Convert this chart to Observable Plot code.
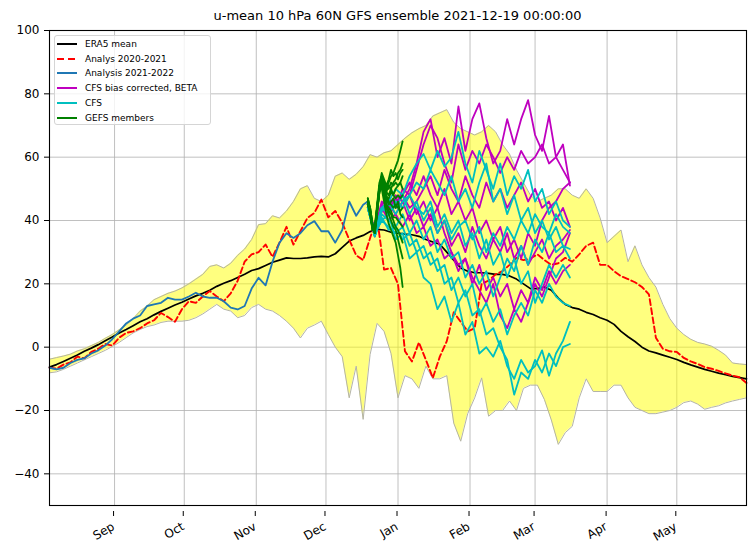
<!DOCTYPE html>
<html><head><meta charset="utf-8">
<script src="https://cdn.jsdelivr.net/npm/d3@7"></script>
<script src="https://cdn.jsdelivr.net/npm/@observablehq/plot@0.6"></script>
<style>
body{margin:0;background:#fff;font-family:"DejaVu Sans",sans-serif;}
#wrap{position:relative;width:756px;height:551px;}
#chart{position:absolute;left:0;top:0;}
#title{position:absolute;left:49px;width:697px;top:8px;text-align:center;font-size:13px;line-height:16px;color:#000;}
#legend{position:absolute;left:54px;top:35px;width:157px;height:90px;border:1px solid #d5d5d5;border-radius:3px;background:rgba(255,255,255,0.8);font-size:9px;box-sizing:border-box;padding-top:0.5px;color:#000;}
.row{display:flex;align-items:center;height:14.8px;}
.sw{width:20px;height:2px;margin-left:2px;margin-right:8px;flex:none;}
</style></head>
<body>
<div id="wrap">
  <div id="chart"></div>
  <div id="title"></div>
  <div id="legend"></div>
</div>
<script>
const titleText = "u-mean 10 hPa 60N GFS ensemble 2021-12-19 00:00:00";
const startDate = Date.UTC(2021, 7, 4);   // first day on the x axis
const endDay = 300;                         // May 31 2022
const stepDays = 3;                         // spacing of the climatology / analysis samples
const forecastStartDay = 137;               // 2021-12-19
const cfsStep = 3;
const gefsStep = 1;

const monthStarts = ["2021-09-01","2021-10-01","2021-11-01","2021-12-01","2022-01-01","2022-02-01","2022-03-01","2022-04-01","2022-05-01"];
const monthLabels = ["Sep","Oct","Nov","Dec","Jan","Feb","Mar","Apr","May"];
const yTicks = [-40,-20,0,20,40,60,80,100];

const seriesNames = ["ERA5 mean","Analys 2020-2021","Analysis 2021-2022","CFS bias corrected, BETA","CFS","GEFS members"];
const seriesColors = ["#000000","#ff0000","#1f77b4","#bf00bf","#00bfbf","#008000"];

const bandUpper = [-3.8,-3.3,-2.8,-2.2,-1.2,-0.5,0.5,1.5,2.8,4,
  5.5,7,9,11.4,13,15,16,17,17.7,18.7,
  20,21.5,23,25.5,26,25,26.5,29,31,34,
  38.7,39,41.5,40.8,43,46,50,51,47,46,
  48,54,55,53,54.6,57,60.8,60,61.4,62,
  64,66,67.7,69,70,73,74,75,71,69,
  68,67,68,70,68,64,61,56,52,48,
  46,47,48,50,50,48,47,50,47,40.8,
  33,35,37,27,32,26,22,19,13.5,9,
  6,4,2.5,1.5,1,0.3,-1,-2.5,-5,-5.3,-5.5];
const bandLower = [-8.1,-7.8,-7,-6,-5,-4,-3,-2,-1,0.2,
  1.5,3,4.5,5.6,6.5,7,7.8,8.2,8.2,8.2,
  8.5,9.3,10.5,12,13.5,12,11.4,9.3,10,12.5,
  13.5,12,11.4,10,8.2,6,2.9,6,7,8.2,
  4,0,-3,-16,-6,-22.8,-2.3,7.5,5,-2,
  -16,-9,-10,-13,-6,-10,-10,-9,-24,-29.7,
  -21,-16,-9.7,-21.8,-20,-20,-17,-20,-13,-12,
  -12,-16.5,-23,-30.7,-27,-25,-16,-10,-14,-14,
  -14,-12,-12,-16,-19,-20,-21,-21,-20.5,-20,
  -19,-17.5,-17,-18,-19.6,-19,-18.5,-17.6,-17,-16.5,-16];
const era5Mean = [-6.3,-5.5,-4.5,-3.5,-2.5,-1.3,-0.3,0.8,2,3.2,
  4.5,5.6,6.8,8,9,10.2,11.3,12.3,13.3,14.2,
  15.2,16.2,17,18,19.2,20.2,21,22,23,24.2,
  24.8,25.8,26.8,27.5,28.2,28,28,28.2,28.5,28.7,
  28.5,29.5,31.5,33.5,34.5,35.3,36.5,37.2,37,36.3,
  36,35.7,35.5,35,34,33.2,32.5,30,27.5,25,
  24,23.5,23.5,23.3,23,23,22.5,21.5,20,18.5,
  18.5,19,18,15.5,13.5,12.5,12,11,10.3,9.3,
  8.5,7.2,5,3.3,1.8,0,-1.2,-1.8,-2.5,-3.2,
  -3.9,-4.8,-5.6,-6.3,-7,-7.6,-8.2,-8.7,-9.2,-9.6,-10];
const analys2020 = [-6.5,-6.8,-5.5,-4.8,-3,-3.5,-1.5,-0.5,1,0.5,
  3,4.5,5,6,7.5,8.5,10.8,9.5,8,12,
  14.5,14,16,17.7,16,14.5,17,21,27,29.3,
  30,32.4,28.5,33,38,32.4,36.6,40.8,42.4,46.6,
  41,43,39.3,34,29,27.5,34.5,40.8,24.5,25,
  19.9,-1.3,-4.5,1.5,-4,-9.7,-3,1.9,11,8,
  5,6,20,21,23,24,26,28.2,27.5,28,
  29.3,27.5,26,26.5,28.2,27,29.3,32,33,26,
  26,24,22.4,21.5,20.5,19,16.7,3,-0.5,-1.3,
  -1.5,-3.4,-4.5,-5.3,-6.3,-6.8,-7.5,-8.3,-9,-9.5,-11.3];
const analysis2021 = [-6.5,-7,-6.5,-5,-4,-3.5,-2,-1,0.5,2.5,
  5,7.5,9,10,13,13.5,14,15.6,15,15,
  16,17.2,16,15.6,15.6,14.5,12.5,11.9,13,18.5,
  21.9,19.5,27,33,36,34.5,36,38.5,39.8,36.6,
  36.6,33,37,46,41.5,45,46];

// CFS bias corrected (magenta), one array per member, every 3 days from 2021-12-19
const cfsBc1 = [45,37,46,44,48,46,50,58,68,72,60,66,58,76,62,72,77,66,58,62,72,64,72,78,67,62,73,60,64,51];
const cfsBc2 = [45,36,45,47,44,50,48,56,64,70,66,58,52,64,56,62,58,64,60,55,60,56,62,58,60,64,58,60,56,52];
const cfsBc3 = [44,36,44,42,46,48,44,46,50,54,48,56,50,46,54,48,44,52,46,50,44,48,52,46,50,44,46,40,44,38];
const cfsBc4 = [45,35,43,45,42,46,40,44,38,42,36,40,32,36,30,38,32,28,34,30,36,28,32,26,30,34,28,32,34,37];
const cfsBc5 = [44,36,44,40,42,38,42,36,38,32,34,28,30,24,28,20,26,18,22,16,20,12,18,14,22,18,24,20,24,26];
const cfsBc6 = [45,35,45,43,47,44,48,42,46,40,44,36,30,26,28,22,18,14,20,10,6,12,8,14,20,16,22,28,30,36];
const cfsBc7 = [44,36,43,46,44,48,52,48,54,48,44,50,42,46,40,44,36,40,34,38,30,34,28,36,32,40,44,46,50,52];
// CFS (cyan)
const cfs1 = [45,36,44,46,50,48,54,58,61,56,62,57,60,68,58,52,62,56,50,58,48,54,50,56,46,50,42,46,40,38];
const cfs2 = [44,35,44,42,46,44,48,52,50,56,52,48,54,46,50,44,52,58,46,50,42,48,40,44,36,40,34,38,32,31];
const cfs3 = [45,35,42,40,38,42,36,40,34,38,30,34,28,30,22,26,20,24,16,22,28,24,32,26,34,30,36,30,32,28];
const cfs4 = [44,36,40,38,36,38,32,34,28,30,24,26,18,22,16,20,10,14,8,12,4,10,14,10,18,14,20,16,14,13];
const cfs5 = [45,35,41,37,38,34,36,30,32,26,28,20,22,14,18,10,12,4,6,0,-4,-15,-8,-10,-4,-8,-2,-6,0,1];
const cfs6 = [44,36,40,42,34,36,28,30,22,20,12,16,8,14,4,8,-2,0,-3,2,-6,-10,-4,-8,-6,-1,-9,-2,2,8];
const cfs7 = [45,36,44,46,42,46,48,44,42,46,38,42,36,40,32,36,28,34,26,30,22,28,20,24,14,20,26,22,26,22];
const cfs8 = [44,35,43,45,44,48,42,46,40,44,36,40,34,38,40,34,38,30,36,32,38,34,40,36,42,38,36,42,38,36];
// GEFS members (green), daily from 2021-12-19
const gefs1 = [46,43,38,37,43,49,53,52,50,52,54,55,57,59,62,65];
const gefs2 = [47,44,39,36,42,50,54,52,49,48,50,52,53,55,56,58];
const gefs3 = [46,42,37,37,44,51,52,50,49,51,50,48,50,51,52,54];
const gefs4 = [45,43,38,37,43,50,52,49,46,47,49,48,47,48,47,48];
const gefs5 = [46,44,39,36,42,49,53,51,48,46,45,44,45,44,43,44];
const gefs6 = [47,43,37,37,44,51,51,48,45,44,43,41,41,40,39,38];
const gefs7 = [46,42,38,38,44,50,52,49,45,43,42,40,38,37,35,33];
const gefs8 = [45,43,38,36,43,49,51,48,44,42,40,38,37,34,31,28];
const gefs9 = [46,44,39,37,44,50,50,46,42,39,37,35,33,29,25,19];
const gefs10 = [47,43,37,38,45,52,54,52,50,50,52,51,52,51,52,50];
const gefs11 = [46,43,38,37,44,51,55,53,51,53,56,54,55,53,55,56];
const gefs12 = [45,42,38,36,43,49,52,50,47,45,46,47,44,46,42,41];

const cfsBcMembers = [cfsBc1,cfsBc2,cfsBc3,cfsBc4,cfsBc5,cfsBc6,cfsBc7];
const cfsMembers = [cfs1,cfs2,cfs3,cfs4,cfs5,cfs6,cfs7,cfs8];
const gefsMembers = [gefs1,gefs2,gefs3,gefs4,gefs5,gefs6,gefs7,gefs8,gefs9,gefs10,gefs11,gefs12];

// ---------- build tables ----------
const dayToDate = t => new Date(startDate + t * 864e5);
const grid = bandUpper.map((_, i) => dayToDate(i * stepDays));
const band = grid.map((d, i) => ({date: d, lo: bandLower[i], hi: bandUpper[i], era: era5Mean[i], prev: analys2020[i]}));
const cur = analysis2021.map((v, i) => ({date: dayToDate(Math.min(i * stepDays, forecastStartDay)), v}));
function members(list, step) {
  const rows = [];
  list.forEach((arr, m) => arr.forEach((v, j) => rows.push({m, date: dayToDate(forecastStartDay + j * step), v})));
  return rows;
}
const bcRows = members(cfsBcMembers, cfsStep);
const cfsRows = members(cfsMembers, cfsStep);
const gefsRows = members(gefsMembers, gefsStep);
const monthDates = monthStarts.map(s => new Date(s + "T00:00:00Z"));
const gridStyle = {stroke: "#b0b0b0", strokeOpacity: 1, strokeWidth: 0.8};

const chart = Plot.plot({
  width: 756, height: 551,
  marginLeft: 49, marginRight: 10, marginTop: 30, marginBottom: 46,
  style: {fontFamily: "DejaVu Sans, sans-serif", fontSize: "12px", background: "white", color: "black"},
  x: {type: "utc", domain: [dayToDate(0), dayToDate(endDay)]},
  y: {domain: [-50, 100]},
  marks: [
    Plot.gridX(monthDates, gridStyle),
    Plot.gridY(yTicks, gridStyle),
    Plot.areaY(band, {x: "date", y1: "lo", y2: "hi", fill: "#ffff00", fillOpacity: 0.5}),
    Plot.line(band, {x: "date", y: "hi", stroke: "#b4b4a6", strokeWidth: 1}),
    Plot.line(band, {x: "date", y: "lo", stroke: "#b4b4a6", strokeWidth: 1}),
    Plot.line(band, {x: "date", y: "era", stroke: seriesColors[0], strokeWidth: 1.7}),
    Plot.line(band, {x: "date", y: "prev", stroke: seriesColors[1], strokeWidth: 1.9, strokeDasharray: "6,3.2"}),
    Plot.line(cur, {x: "date", y: "v", stroke: seriesColors[2], strokeWidth: 1.8}),
    Plot.line(bcRows, {x: "date", y: "v", z: "m", stroke: seriesColors[3], strokeWidth: 1.8}),
    Plot.line(cfsRows, {x: "date", y: "v", z: "m", stroke: seriesColors[4], strokeWidth: 1.8}),
    Plot.line(gefsRows, {x: "date", y: "v", z: "m", stroke: seriesColors[5], strokeWidth: 1.8}),
    Plot.frame({stroke: "black", strokeWidth: 1.1}),
    Plot.axisX(monthDates, {tickFormat: (d, i) => monthLabels[i], tickRotate: -30, tickSize: 5, tickPadding: 9, dx: -1, dy: 6, label: null, fontSize: 12}),
    Plot.axisY(yTicks, {tickSize: 5, tickPadding: 5, label: null, fontSize: 12})
  ]
});
document.getElementById("chart").appendChild(chart);
document.getElementById("title").textContent = titleText;

const leg = document.getElementById("legend");
seriesNames.forEach((name, i) => {
  const row = document.createElement("div");
  row.className = "row";
  const sw = document.createElement("span");
  sw.className = "sw";
  sw.style.background = i === 1
    ? `repeating-linear-gradient(to right, ${seriesColors[i]} 0 7px, transparent 7px 11px)`
    : seriesColors[i];
  const tx = document.createElement("span");
  tx.textContent = name;
  row.appendChild(sw); row.appendChild(tx);
  leg.appendChild(row);
});
</script>
</body></html>
